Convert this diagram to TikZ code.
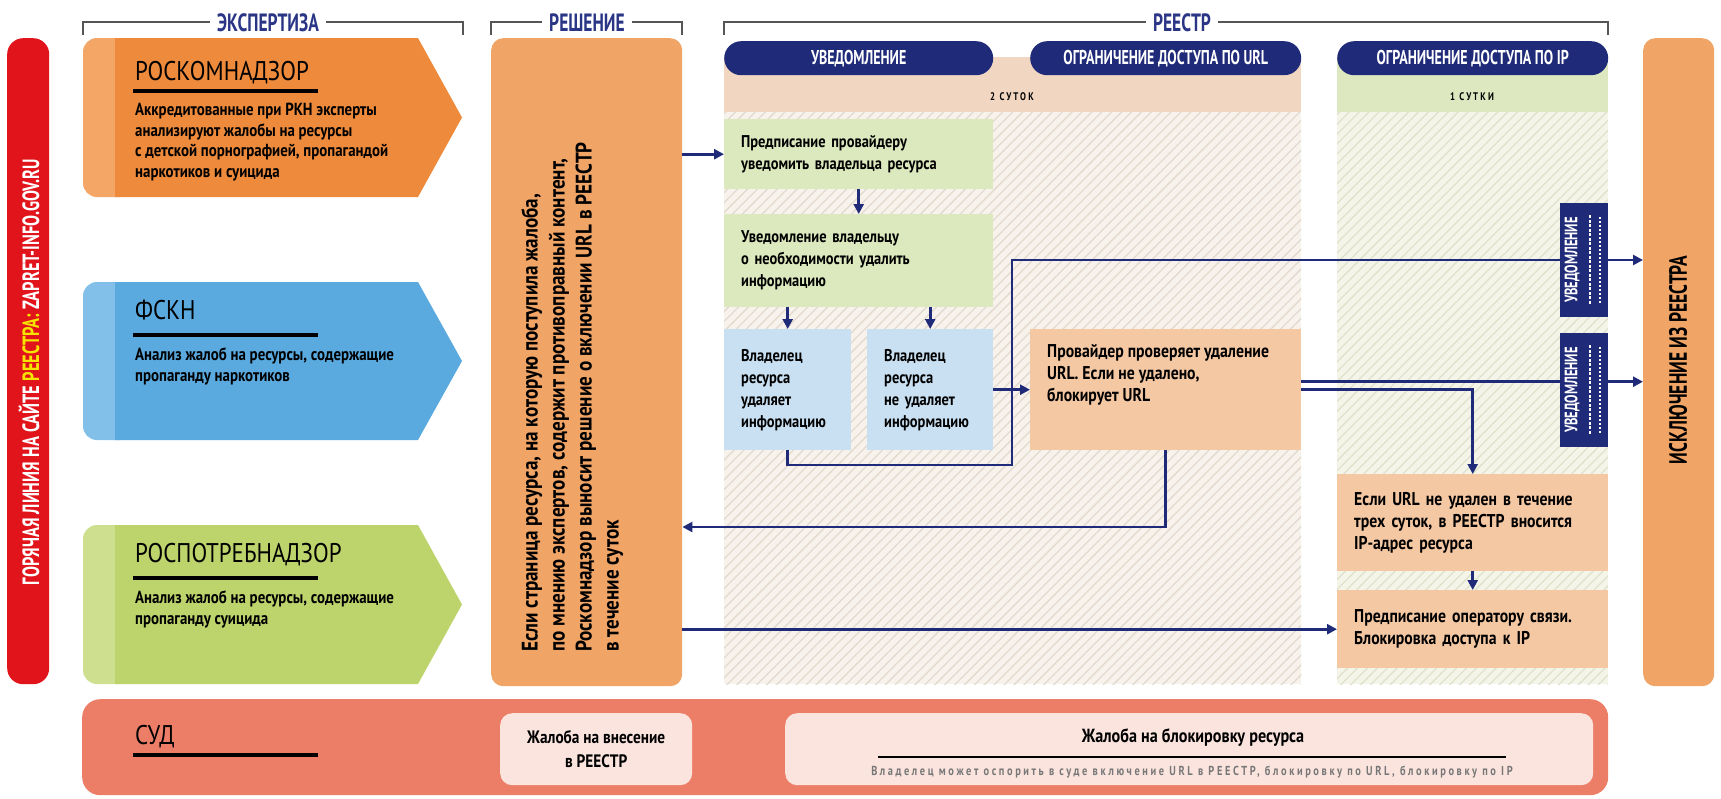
\documentclass[tikz,border=0pt]{standalone}
\usepackage{fontspec}
\setmainfont{PT Sans}[FakeStretch=0.85]
\newfontfamily\narrowfont{PT Sans}[FakeStretch=0.7]
\newfontfamily\spacedfont{PT Sans}[FakeStretch=0.8, LetterSpace=20]
\usetikzlibrary{arrows.meta, calc, patterns.meta, positioning}

\definecolor{navy}{HTML}{1F2A78}
\definecolor{hdblue}{HTML}{2A3586}
\definecolor{bracketgray}{HTML}{555555}
\definecolor{hotred}{HTML}{E2141B}
\definecolor{hotyellow}{HTML}{F5E400}
\definecolor{rkn}{HTML}{EE8A3B}
\definecolor{rknlight}{HTML}{F3A666}
\definecolor{fskn}{HTML}{5AAAE0}
\definecolor{fsknlight}{HTML}{82C0EA}
\definecolor{rpn}{HTML}{BDD46C}
\definecolor{rpnlight}{HTML}{CEDF90}
\definecolor{decision}{HTML}{F0A466}
\definecolor{bandpeach}{HTML}{F1D6C2}
\definecolor{bandgreen}{HTML}{DDE8C1}
\definecolor{hatchbga}{HTML}{F7F2EC}
\definecolor{hatchlna}{HTML}{E3DACE}
\definecolor{hatchbgb}{HTML}{F4F5E8}
\definecolor{hatchlnb}{HTML}{DFE2CC}
\definecolor{boxgreen}{HTML}{DCE8BD}
\definecolor{boxblue}{HTML}{C8E0F2}
\definecolor{boxpeach}{HTML}{F5C8A4}
\definecolor{court}{HTML}{EC7E68}
\definecolor{courtbox}{HTML}{FBE4DE}
\definecolor{smallgray}{HTML}{777777}

\begin{document}
\begin{tikzpicture}[x=1pt, y=-1pt,
    conn/.style={draw=navy, line width=2.6pt},
    arr/.style={conn, -{Triangle[length=10pt, width=10pt]}},
    bracket/.style={draw=bracketgray, line width=1.8pt},
    head/.style={anchor=base, fill=white, inner xsep=7pt, text=hdblue, font=\narrowfont\bfseries\fontsize{25}{25}\selectfont},
    pill/.style={anchor=north west, fill=navy, rounded corners=17pt, minimum height=34pt, inner sep=0pt, text=white, font=\narrowfont\bfseries\fontsize{20}{20}\selectfont},
    flowbox/.style={anchor=north west, inner xsep=17pt, inner ysep=0pt, align=left, font=\bfseries\fontsize{17}{22}\selectfont},
    ipbox/.style={flowbox, fill=boxpeach, font=\bfseries\fontsize{18.5}{22}\selectfont},
    tall/.style={anchor=north west, rounded corners=12pt, fill=decision, minimum height=648pt, inner sep=0pt},
    agtitle/.style={anchor=base west, inner sep=0pt, font=\fontsize{27}{27}\selectfont},
    agtext/.style={anchor=north west, inner sep=0pt, align=left, font=\bfseries\fontsize{17.5}{20.5}\selectfont},
    barline/.style={line width=4pt, black},
    tag/.style={anchor=north west, fill=navy, minimum width=48pt, minimum height=114pt, inner sep=0pt},
    tagtext/.style={rotate=90, text=white, inner sep=0pt, font=\narrowfont\bfseries\fontsize{18}{18}\selectfont},
    days/.style={font=\spacedfont\bfseries\fontsize{11}{11}\selectfont}]

    \useasboundingbox (0,0) rectangle (1721,798);

    % section brackets
    \draw[bracket] (83,35) -- (83,22) -- (463,22) -- (463,35);
    \draw[bracket] (491,35) -- (491,22) -- (682,22) -- (682,35);
    \draw[bracket] (724,35) -- (724,22) -- (1608,22) -- (1608,35);
    \node[head] (hexp) at (268,31) {ЭКСПЕРТИЗА};
    \node[head] (hdec) at (587,31) {РЕШЕНИЕ};
    \node[head] (hreg) at (1182,31) {РЕЕСТР};

    % hot line
    \node[anchor=north west, fill=hotred, rounded corners=16pt, minimum width=42pt, minimum height=646pt, inner sep=0pt] (hotline) at (7,38) {};
    \node[rotate=90, text=white, inner sep=0pt, font=\narrowfont\bfseries\fontsize{23.5}{23.5}\selectfont] (hottext) at (29,372)
        {ГОРЯЧАЯ ЛИНИЯ НА САЙТЕ \textcolor{hotyellow}{РЕЕСТРА:} ZAPRET-INFO.GOV.RU};

    % expert agencies
    \foreach \ya/\yb/\cmain/\cstrip in {38/197/rkn/rknlight, 282/440/fskn/fsknlight, 525/684/rpn/rpnlight} {
        \fill[\cstrip, rounded corners=14pt] (83,\ya) rectangle (135,\yb);
        \fill[\cmain] (115,\ya) -- (418,\ya) -- (462,{(\ya+\yb)/2}) -- (418,\yb) -- (115,\yb) -- cycle;
        \draw[barline] (133,\ya+53) -- (318,\ya+53);
    }
    \node[agtitle] (rkntitle) at (135,80) {РОСКОМНАДЗОР};
    \node[agtext] (rkntext) at (135,103) {Аккредитованные при РКН эксперты\\анализируют жалобы на ресурсы\\с детской порнографией, пропагандой\\наркотиков и суицида};
    \node[agtitle] (fskntitle) at (135,319) {ФСКН};
    \node[agtext] (fskntext) at (135,348) {Анализ жалоб на ресурсы, содержащие\\пропаганду наркотиков};
    \node[agtitle] (rpntitle) at (135,562) {РОСПОТРЕБНАДЗОР};
    \node[agtext] (rpntext) at (135,591) {Анализ жалоб на ресурсы, содержащие\\пропаганду суицида};

    % decision
    \node[tall, minimum width=191pt] (resh) at (491,38) {};
    \node[rotate=90, anchor=north west, inner sep=0pt, align=left, font=\bfseries\fontsize{22.5}{27}\selectfont] (reshtext) at (521,652)
        {Если страница ресурса, на которую поступила жалоба,\\по мнению экспертов, содержит противоправный контент,\\Роскомнадзор выносит решение о включении URL в РЕЕСТР\\в течение суток};

    % register backgrounds
    \fill[bandpeach] (724,57) rectangle (1301,112);
    \fill[bandgreen] (1337,57) rectangle (1608,112);
    \fill[hatchbga] (724,112) rectangle (1301,684);
    \fill[pattern={Lines[angle=45, distance=7pt, line width=1.3pt]}, pattern color=hatchlna] (724,112) rectangle (1301,684);
    \fill[hatchbgb] (1337,112) rectangle (1608,684);
    \fill[pattern={Lines[angle=45, distance=7pt, line width=1.3pt]}, pattern color=hatchlnb] (1337,112) rectangle (1608,684);
    \node[pill, minimum width=269pt] (pnote) at (724,41) {УВЕДОМЛЕНИЕ};
    \node[pill, minimum width=271pt] (purl) at (1030,41) {ОГРАНИЧЕНИЕ ДОСТУПА ПО URL};
    \node[pill, minimum width=271pt] (pip) at (1337,41) {ОГРАНИЧЕНИЕ ДОСТУПА ПО IP};
    \node[days] (twodays) at (1012,97) {2 СУТОК};
    \node[days] (oneday) at (1472,97) {1 СУТКИ};

    % register steps
    \node[flowbox, fill=boxgreen, minimum width=269pt, minimum height=70pt, text width=235pt] (pred) at (724,119) {Предписание провайдеру\\уведомить владельца ресурса};
    \node[flowbox, fill=boxgreen, minimum width=269pt, minimum height=93pt, text width=235pt] (notif) at (724,214) {Уведомление владельцу\\о необходимости удалить\\информацию};
    \node[flowbox, fill=boxblue, minimum width=127pt, minimum height=121pt, text width=93pt] (own1) at (724,329) {Владелец\\ресурса\\удаляет\\информацию};
    \node[flowbox, fill=boxblue, minimum width=126pt, minimum height=121pt, text width=92pt] (own2) at (867,329) {Владелец\\ресурса\\не удаляет\\информацию};
    \node[ipbox, minimum width=271pt, minimum height=121pt, text width=237pt] (prov) at (1030,329) {};
    \node[ipbox, fill=none, inner xsep=0pt] (provtext) at (1047,344) {Провайдер проверяет удаление\\URL. Если не удалено,\\блокирует URL};
    \node[ipbox, minimum width=271pt, minimum height=97pt, text width=237pt] (ifurl) at (1337,474) {Если URL не удален в течение\\трех суток, в РЕЕСТР вносится\\IP-адрес ресурса};
    \node[ipbox, minimum width=271pt, minimum height=78pt, text width=237pt] (order) at (1337,590) {Предписание оператору связи.\\Блокировка доступа к IP};

    % exclusion
    \node[tall, minimum width=71pt] (excl) at (1643,38) {};
    \node[rotate=90, inner sep=0pt, font=\narrowfont\bfseries\fontsize{25}{25}\selectfont] (excltext) at (1678,360) {ИСКЛЮЧЕНИЕ ИЗ РЕЕСТРА};

    % connectors
    \coordinate (k1) at (1012,465);
    \coordinate (k2) at (1012,260);
    \coordinate (k3) at (1165,527);
    \draw[arr] (pred.west -| resh.east) -- (pred.west);
    \draw[arr] (pred) -- (notif);
    \draw[arr] (own1.north |- notif.south) -- (own1.north);
    \draw[arr] (own2.north |- notif.south) -- (own2.north);
    \draw[arr] (own2) -- (prov);
    \draw[arr] (own1.south) |- (k1) -- (k2) -- (k2 -| excl.west);
    \draw[arr] ([yshift=8pt]prov.east) -- ([yshift=8pt]prov.east -| excl.west);
    \draw[arr] (prov.east) -| (ifurl.north);
    \draw[arr] (ifurl) -- (order);
    \draw[arr] (order.west -| resh.east) -- (order.west);
    \draw[arr] (prov.south) |- (k3 -| resh.east);

    % notices
    \foreach \yt/\nm in {203/tag1, 333/tag2} {
        \node[tag] (\nm) at (1560,\yt) {};
        \node[tagtext] (\nm text) at (1572,\yt+57) {УВЕДОМЛЕНИЕ};
        \draw[white, line width=2pt, dash pattern=on 3pt off 1.5pt] (1590,\yt+12) -- (1590,\yt+102);
        \draw[white, line width=2pt, dash pattern=on 2pt off 2pt] (1600,\yt+14) -- (1600,\yt+100);
    }

    % court
    \node[anchor=north west, fill=court, rounded corners=18pt, minimum width=1526pt, minimum height=96pt, inner sep=0pt] (sud) at (82,699) {};
    \node[agtitle] (sudtitle) at (135,744) {СУД};
    \draw[barline] (133,755) -- (318,755);
    \node[anchor=north west, fill=courtbox, rounded corners=12pt, minimum width=192pt, minimum height=72pt, align=center, font=\bfseries\fontsize{18}{24}\selectfont] (cadd) at (500,713) {Жалоба на внесение\\в РЕЕСТР};
    \node[anchor=north west, fill=courtbox, rounded corners=12pt, minimum width=808pt, minimum height=72pt, inner sep=0pt] (cblock) at (785,713) {};
    \node[font=\bfseries\fontsize{19}{19}\selectfont] (cblocktitle) at (1193,738) {Жалоба на блокировку ресурса};
    \draw[line width=1.5pt, black] (878,757) -- (1506,757);
    \node[font=\spacedfont\bfseries\fontsize{13}{13}\selectfont, text=smallgray] (cblocktext) at (1192,772) {Владелец может оспорить в суде включение URL в РЕЕСТР, блокировку по URL, блокировку по IP};
\end{tikzpicture}
\end{document}
